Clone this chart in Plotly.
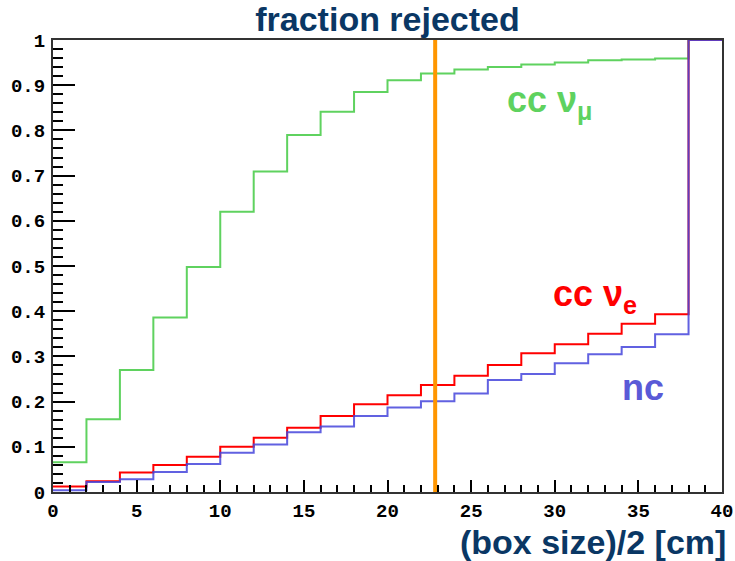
import plotly.graph_objects as go

# bin edges (box size)/2 [cm]
bin_edges = [0, 2, 4, 6, 8, 10, 12, 14, 16, 18, 20, 22, 24, 26, 28, 30, 32, 34, 36, 38, 40]

# fraction rejected per bin
cc_numu = [0.066, 0.161, 0.270, 0.386, 0.498, 0.620, 0.709, 0.790, 0.841, 0.885,
           0.911, 0.926, 0.935, 0.940, 0.946, 0.950, 0.955, 0.957, 0.959, 1.0]
cc_nue = [0.012, 0.024, 0.043, 0.060, 0.078, 0.100, 0.120, 0.142, 0.168, 0.194,
          0.214, 0.237, 0.257, 0.281, 0.307, 0.327, 0.350, 0.372, 0.393, 1.0]
nc = [0.004, 0.022, 0.028, 0.044, 0.062, 0.087, 0.105, 0.132, 0.145, 0.168,
      0.187, 0.201, 0.218, 0.248, 0.261, 0.285, 0.305, 0.321, 0.349, 1.0]

cut_value = 22.85

x_ticks = [0, 5, 10, 15, 20, 25, 30, 35, 40]
x_ticklabels = ["0", "5", "10", "15", "20", "25", "30", "35", "40"]
y_ticks = [0, 0.1, 0.2, 0.3, 0.4, 0.5, 0.6, 0.7, 0.8, 0.9, 1.0]
y_ticklabels = ["0", "0.1", "0.2", "0.3", "0.4", "0.5", "0.6", "0.7", "0.8", "0.9", "1"]

GREEN = "rgb(95,210,95)"
RED = "rgb(255,0,0)"
BLUE = "rgb(70,70,220)"
NAVY = "rgb(10,55,100)"

def step(vals):
    return vals + [vals[-1]]

fig = go.Figure()
fig.add_trace(go.Scatter(x=bin_edges, y=step(cc_numu), mode="lines",
                         line=dict(color=GREEN, width=2, shape="hv"), showlegend=False))
fig.add_trace(go.Scatter(x=bin_edges, y=step(cc_nue), mode="lines",
                         line=dict(color=RED, width=2, shape="hv"), showlegend=False))
fig.add_trace(go.Scatter(x=bin_edges, y=step(nc), mode="lines", opacity=0.85,
                         line=dict(color=BLUE, width=2, shape="hv"), showlegend=False))
fig.add_trace(go.Scatter(x=[cut_value, cut_value], y=[0, 1], mode="lines",
                         line=dict(color="rgb(255,150,0)", width=4), showlegend=False))

label_font = dict(family="Liberation Sans, Arial", size=36, weight="bold")
fig.add_annotation(x=27.0, y=0.862, xref="x", yref="y", xanchor="left", yanchor="middle",
                   text="cc ν<sub>μ</sub>", showarrow=False, font=dict(label_font, color=GREEN))
fig.add_annotation(x=29.8, y=0.434, xref="x", yref="y", xanchor="left", yanchor="middle",
                   text="cc ν<sub>e</sub>", showarrow=False, font=dict(label_font, color=RED))
fig.add_annotation(x=33.9, y=0.232, xref="x", yref="y", xanchor="left", yanchor="middle",
                   text="nc", showarrow=False, font=dict(label_font, color="rgb(90,90,215)"))

fig.add_annotation(x=1.009, y=-0.1106, xref="paper", yref="paper", xanchor="right", yanchor="middle",
                   text="(box size)/2 [cm]", showarrow=False,
                   font=dict(family="Liberation Sans, Arial", size=34, weight="bold", color=NAVY))

tick_font = dict(family="Liberation Mono, Courier New", size=19, weight="bold", color="black")

fig.update_layout(
    width=735, height=561,
    margin=dict(l=53, r=13, t=40, b=69, autoexpand=False),
    paper_bgcolor="white", plot_bgcolor="white",
    title=dict(text="fraction rejected", x=0.5, xref="paper", xanchor="center",
               y=1 - 19 / 561, yref="container", yanchor="middle",
               font=dict(family="Liberation Sans, Arial", size=34, weight="bold", color=NAVY)),
    xaxis=dict(range=[0, 40], tickvals=x_ticks, ticktext=x_ticklabels,
               ticks="inside", ticklen=12, tickwidth=1.5, tickcolor="black",
               minor=dict(dtick=1, ticks="inside", ticklen=7, tickwidth=1.5, tickcolor="black"),
               showgrid=False, zeroline=False, showline=True, linecolor="#333", linewidth=2,
               mirror=True, tickfont=tick_font, ticklabelstandoff=0, automargin=False),
    yaxis=dict(range=[0, 1], tickvals=y_ticks, ticktext=y_ticklabels,
               ticks="inside", ticklen=22, tickwidth=1.5, tickcolor="black",
               minor=dict(dtick=0.02, ticks="inside", ticklen=10, tickwidth=1.5, tickcolor="black"),
               showgrid=False, zeroline=False, showline=True, linecolor="#333", linewidth=2,
               mirror=True, tickfont=tick_font, ticklabelstandoff=2, automargin=False),
)

fig.write_html("out.html")
